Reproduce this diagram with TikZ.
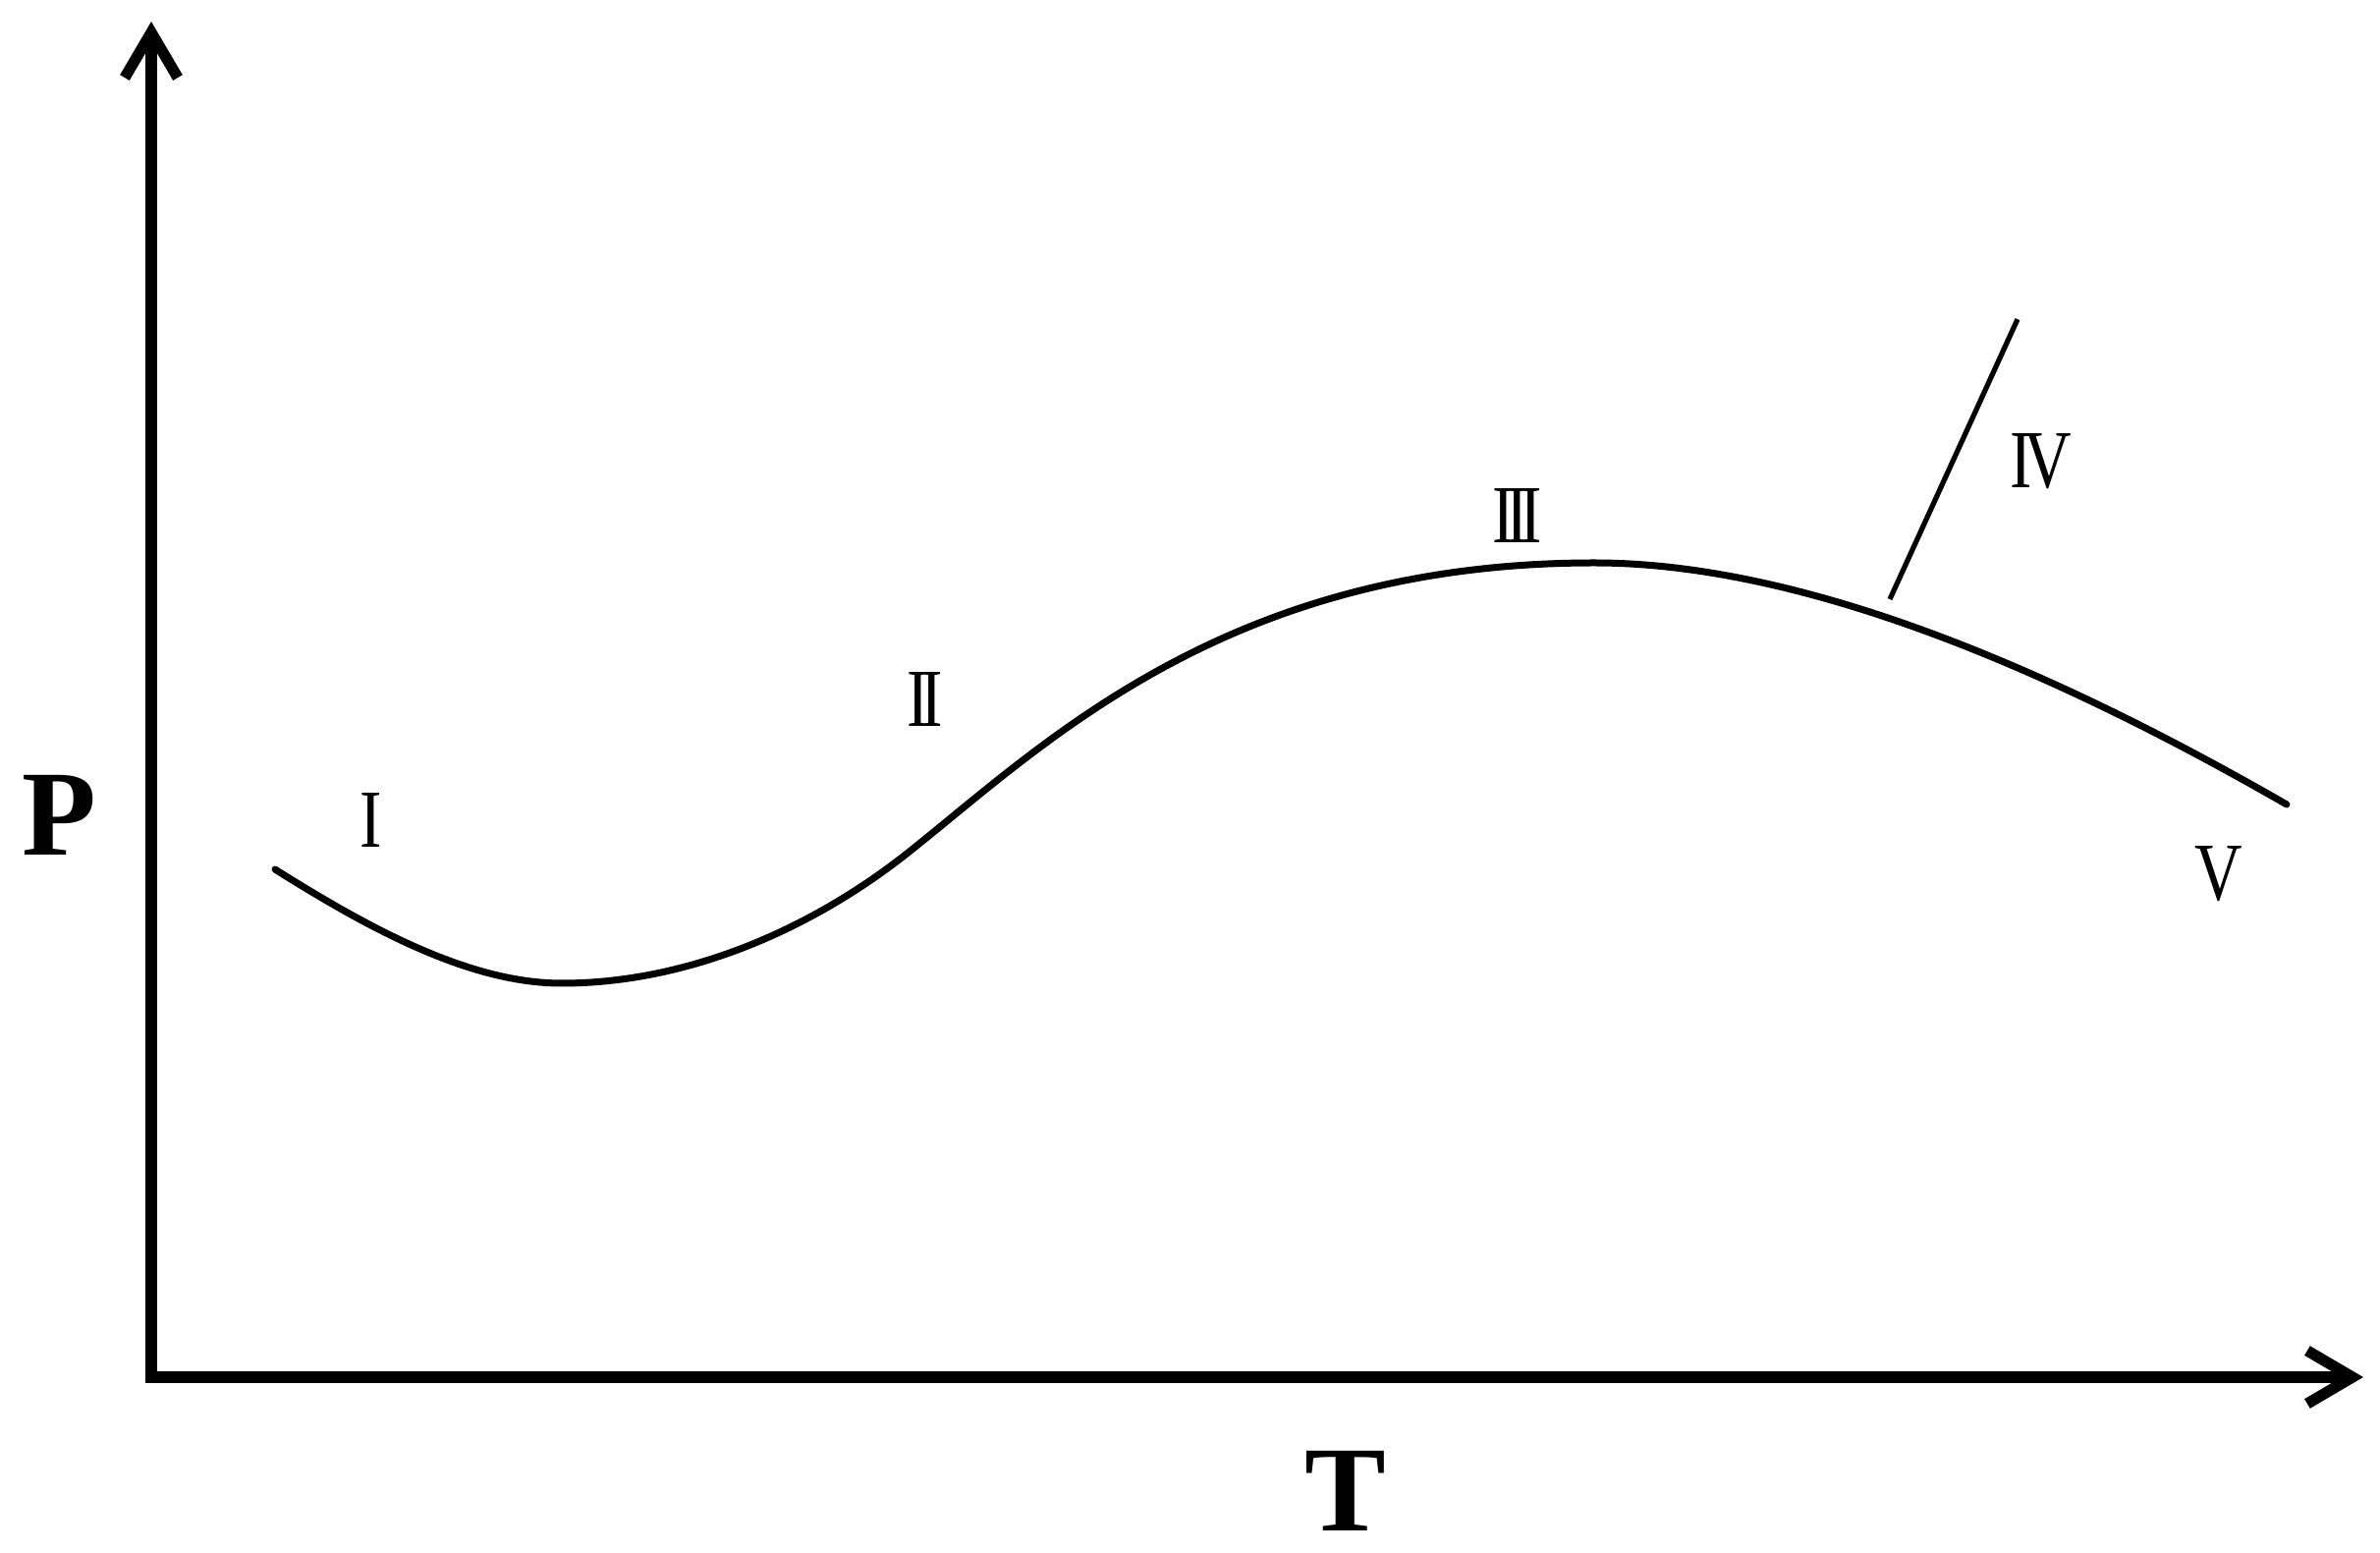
\documentclass[tikz,border=0pt]{standalone}
\usepackage{fontspec}
\setmainfont{Liberation Serif}
\newfontfamily\rnfont[FakeStretch=0.8]{Liberation Serif}
\usetikzlibrary{arrows.meta}
\begin{document}
\begin{tikzpicture}[x=0.25pt,y=-0.25pt,
  axis/.style={line width=2.8pt,line cap=rect,-{Straight Barb[length=11.5pt,width=13.5pt,line width=2.8pt]}},
  curve/.style={line width=1.75pt},
  axlabel/.style={font=\fontsize{31pt}{31pt}\selectfont\bfseries,inner sep=0pt},
  rn/.style={font=\fontsize{21pt}{21pt}\selectfont\rnfont,inner sep=0pt}]
\useasboundingbox (0,0) rectangle (2423,1581);
\coordinate (O) at (154,1402);
\coordinate (Ytop) at (154,22);
\coordinate (Xend) at (2406,1402);
\draw[axis] (O) -- (Ytop);
\draw[axis] (O) -- (Xend);
\node[axlabel] (P) at (60,830) {P};
\node[axlabel] (T) at (1370,1518) {T};
\coordinate (B) at (1924,610);
\coordinate (Itop) at (2054,325);
\draw[curve, line cap=round] (280,885) .. controls (380,948) and (480,1001) .. (572,1001)
  .. controls (700,1001) and (827,946) .. (927,866)
  .. controls (1065,756) and (1250,573) .. (1623,573)
  .. controls (1808,573) and (2043,655) .. (2328,819);
\draw[line width=1.3pt] (B) -- (Itop);
\node[rn] (L1) at (378,835) {I};
\node[rn] (L2) at (942,712) {I\kern-0.1em I};
\node[rn] (L3) at (1545,525) {I\kern-0.1em I\kern-0.1em I};
\node[rn] (L4) at (2078,470) {I\kern-0.1em V};
\node[rn] (L5) at (2259,890) {V};
\end{tikzpicture}
\end{document}
